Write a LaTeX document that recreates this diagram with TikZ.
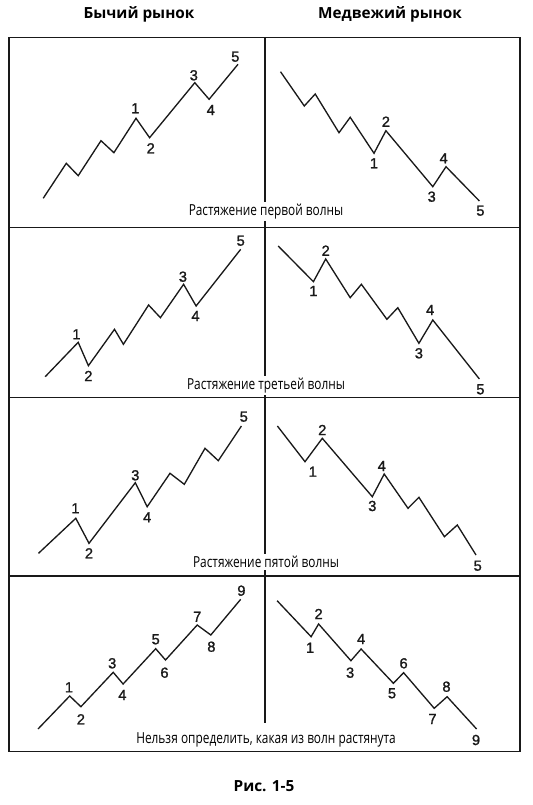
\documentclass[tikz,border=0pt]{standalone}
\usepackage{fontspec}
\setmainfont{Liberation Sans}
\newfontfamily\numfont[FakeBold=1.3]{Liberation Sans}
\newfontfamily\headfont{Open Sans}
\newfontfamily\capfont[FakeStretch=0.78]{Open Sans}
\usepackage{xcolor}
\usepackage{tikz}
\definecolor{chartInk}{RGB}{25,25,25}

\begin{document}
\begin{tikzpicture}[x=0.75pt,y=-0.75pt,
    wave/.style={chartInk,line width=1pt},
    frame/.style={chartInk,line width=1.1pt},
    num/.style={font=\numfont\fontsize{11}{12}\selectfont,text=chartInk,inner sep=0pt},
    caption/.style={font=\capfont\fontsize{11.4}{13}\selectfont,anchor=base,fill=white,inner sep=1.5pt},
    head/.style={font=\headfont\bfseries\fontsize{11.5}{13}\selectfont,anchor=base}]
  \useasboundingbox (0,0) rectangle (532,805);
  % ---- headings and frame
  \node[head] (bullHead) at (139,19) {Бычий рынок};
  \node[head] (bearHead) at (390,19) {Медвежий рынок};
  \draw[frame] (9.2,37.3) rectangle (520,751.7);
  \draw[frame] (9.2,227.5) -- (520,227.5);
  \draw[frame] (9.2,397.3) -- (520,397.3);
  \draw[frame] (9.2,576) -- (520,576);
  \draw[frame] (265,37.3) -- (265,723);
  % ---- first wave extended
  \draw[wave] (43.2,198.3) -- (66.3,163.3) -- (78.2,175.7) -- (101,140.7) -- (113.9,152.7)
      -- (136,118.3) -- (149.6,137.7) -- (194.8,82.7) -- (209.1,99.3) -- (238,64.3);
  \node[num] (bu1-1) at (135.3,108.3) {1}; \node[num] (bu1-2) at (150.7,148.3) {2};
  \node[num] (bu1-3) at (193.8,75.3) {3};  \node[num] (bu1-4) at (210.8,110) {4};
  \node[num] (bu1-5) at (235.3,56.7) {5};
  \draw[wave] (280.5,71.7) -- (304.3,106) -- (315.2,94) -- (339,132.7) -- (350.2,117.3)
      -- (374,153.3) -- (385.9,130.7) -- (432.8,186.7) -- (446,166.7) -- (479.4,201);
  \node[num] (be1-1) at (374,163.3) {1};   \node[num] (be1-2) at (385.9,121.7) {2};
  \node[num] (be1-3) at (431.7,196.7) {3}; \node[num] (be1-4) at (443.7,158.3) {4};
  \node[num] (be1-5) at (480.4,210.7) {5};
  \node[caption] (cap1) at (266,215.7) {Растяжение первой волны};
  % ---- third wave extended
  \draw[wave] (45.2,376.7) -- (78.2,342.3) -- (88.4,365.7) -- (114.5,329.3) -- (123.4,344.3)
      -- (148.6,305) -- (160.4,317.7) -- (183.6,284.3) -- (196.1,306) -- (240.7,249.3);
  \node[num] (bu2-1) at (76.5,334.3) {1};  \node[num] (bu2-2) at (88.4,376) {2};
  \node[num] (bu2-3) at (182.9,276.7) {3}; \node[num] (bu2-4) at (195.5,316) {4};
  \node[num] (bu2-5) at (240.7,240.7) {5};
  \draw[wave] (278.2,246) -- (313.4,281.7) -- (325.7,259) -- (350.2,297.7) -- (361.4,284.3)
      -- (386.9,319.3) -- (397.8,307.7) -- (418.9,343.3) -- (432.8,320) -- (479.4,379);
  \node[num] (be2-1) at (313.4,291) {1};   \node[num] (be2-2) at (325.7,250.7) {2};
  \node[num] (be2-3) at (418.9,353.3) {3}; \node[num] (be2-4) at (430.1,310) {4};
  \node[num] (be2-5) at (480.4,389.3) {5};
  \node[caption] (cap2) at (266,389) {Растяжение третьей волны};
  % ---- fifth wave extended
  \draw[wave] (38.5,553.3) -- (75.8,518.3) -- (89,543.3) -- (135.3,482.7) -- (147.2,506.7)
      -- (170,473.3) -- (184.3,484.3) -- (205,448.3) -- (218.3,460.7) -- (241.4,426);
  \node[num] (bu3-1) at (75.5,508.3) {1};  \node[num] (bu3-2) at (89,553.3) {2};
  \node[num] (bu3-3) at (135.3,475.3) {3}; \node[num] (bu3-4) at (147.2,517.3) {4};
  \node[num] (bu3-5) at (243.8,416.7) {5};
  \draw[wave] (277.4,426) -- (305,461.7) -- (322.3,438.3) -- (372.3,496.7) -- (384.2,474)
      -- (408,508.3) -- (418.9,497.3) -- (444.4,536.7) -- (457.3,525) -- (476,555);
  \node[num] (be3-1) at (312.8,471.7) {1}; \node[num] (be3-2) at (322.3,430) {2};
  \node[num] (be3-3) at (372.3,506) {3};   \node[num] (be3-4) at (381.8,466) {4};
  \node[num] (be3-5) at (477.7,565.7) {5};
  \node[caption] (cap3) at (266,567.7) {Растяжение пятой волны};
  % ---- no extension visible
  \draw[wave] (38,729) -- (69.7,696) -- (80.9,706.7) -- (113.2,672.3) -- (123.1,684)
      -- (155.7,648.7) -- (165.5,660) -- (197.2,625) -- (210.8,635) -- (240.7,599.3);
  \node[num] (bu4-1) at (69,687.3) {1};    \node[num] (bu4-2) at (80.9,719.3) {2};
  \node[num] (bu4-3) at (112.2,663.3) {3}; \node[num] (bu4-4) at (122.4,695) {4};
  \node[num] (bu4-5) at (155.7,639.3) {5}; \node[num] (bu4-6) at (164.5,672.7) {6};
  \node[num] (bu4-7) at (197.2,616.7) {7}; \node[num] (bu4-8) at (211.4,646.7) {8};
  \node[num] (bu4-9) at (241.4,590.7) {9};
  \draw[wave] (277.1,600.7) -- (311.1,636.7) -- (318.6,624) -- (350.9,660.7) -- (361.1,649)
      -- (393.4,683.3) -- (403.6,672.7) -- (434.2,708.3) -- (447.1,696.7) -- (476.6,729);
  \node[num] (be4-1) at (310.1,647.7) {1}; \node[num] (be4-2) at (318.6,614) {2};
  \node[num] (be4-3) at (350.1,672.7) {3}; \node[num] (be4-4) at (361.1,639) {4};
  \node[num] (be4-5) at (392,693.3) {5};   \node[num] (be4-6) at (403.6,663.3) {6};
  \node[num] (be4-7) at (432.5,719) {7};   \node[num] (be4-8) at (446.5,686.7) {8};
  \node[num] (be4-9) at (476,740) {9};
  \node[caption] (cap4) at (266,743.3) {Нельзя определить, какая из волн растянута};
  % ---- figure number
  \node[head] (figNo) at (264,791.7) {Рис. 1-5};
\end{tikzpicture}
\end{document}
